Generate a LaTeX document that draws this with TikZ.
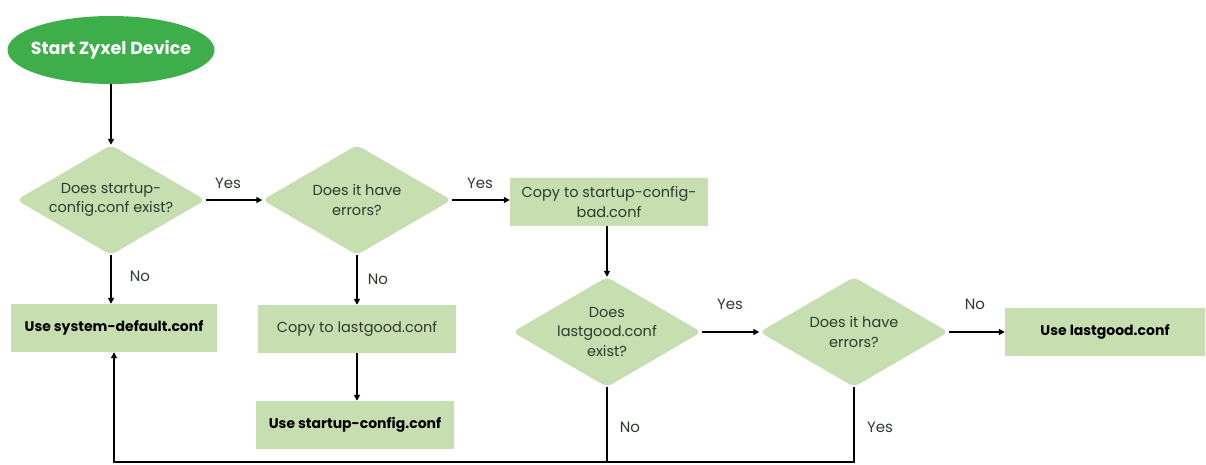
\documentclass[tikz,border=0pt]{standalone}
\usepackage{fontspec}
\setmainfont{Poppins}
\usetikzlibrary{shapes.geometric,arrows.meta}
\definecolor{dkgreen}{HTML}{3DAE49}
\definecolor{ltgreen}{HTML}{C6DEB0}
\definecolor{txt}{HTML}{2E3A2E}
\tikzset{
  every node/.style={font=\fontsize{14.5}{19.5}\selectfont},
  startnode/.style={ellipse,fill=dkgreen,minimum width=207pt,minimum height=68pt,inner sep=0pt},
  starttext/.style={inner sep=0pt,text=white,font=\fontsize{17.5}{20}\selectfont\bfseries},
  decision/.style={diamond,fill=ltgreen,minimum width=189pt,minimum height=110pt,inner sep=0pt,rounded corners=6pt},
  dtext/.style={align=center,text=txt,inner sep=0pt},
  procbox/.style={rectangle,fill=ltgreen,minimum width=198pt,minimum height=48pt,inner sep=0pt,text=txt,align=center},
  usebox/.style={procbox,text=black,font=\fontsize{14}{18}\selectfont\bfseries},
  arr/.style={line width=1.6pt,-{Triangle[length=6pt,width=6pt]}},
  ln/.style={line width=1.6pt},
  lbl/.style={text=txt,inner sep=0pt,font=\fontsize{15}{17}\selectfont},
}
\begin{document}
\begin{tikzpicture}[x=1pt,y=-1pt]
\useasboundingbox (0,0) rectangle (1206,464);
\node[startnode] (start) at (111,50) {};
\node[starttext] (startt) at (start) {Start Zyxel Device};
\node[decision] (d1) at (111,200) {};
\node[dtext] (d1t) at (d1) {Does startup-\\config.conf exist?};
\node[decision] (d2) at (357,200) {};
\node[dtext] (d2t) at (d2) {Does it have\\errors?};
\node[procbox] (bad) at (609,202) {Copy to startup-config-\\bad.conf};
\node[decision] (d3) at (607,332) {};
\node[dtext] (d3t) at (d3) {Does\\lastgood.conf\\exist?};
\node[decision] (d4) at (854,332) {};
\node[dtext] (d4t) at (d4) {Does it have\\errors?};
\node[usebox,minimum width=200pt] (uselg) at (1105,332) {Use lastgood.conf};
\node[usebox,minimum width=206pt] (sys) at (114,328) {Use system-default.conf};
\node[procbox] (cplg) at (357,329) {Copy to lastgood.conf};
\node[usebox] (usestart) at (355,425) {Use startup-config.conf};
\coordinate (bl) at (114,462);

\draw[arr] (start) -- (d1);
\draw[arr] (d1) -- (d2);
\draw[arr] (d2) -- (bad.west |- d2);
\draw[arr] (d1.south) -- (sys.north -| d1.south);
\draw[arr] (d2) -- (cplg);
\draw[arr] (cplg.south) -- (usestart.north -| cplg.south);
\draw[arr] (bad.south -| d3) -- (d3);
\draw[arr] (d3) -- (d4);
\draw[arr] (d4) -- (uselg);
\draw[ln] (d3.south) -- (d3.south |- bl);
\draw[arr] (d4.south) |- (bl) -- (sys.south);

\node[lbl] (y1) at (228,183) {Yes};
\node[lbl] (y2) at (480,183) {Yes};
\node[lbl] (n1) at (140,276) {No};
\node[lbl] (n2) at (378,279) {No};
\node[lbl] (y3) at (730,304) {Yes};
\node[lbl] (n3) at (975,304) {No};
\node[lbl] (n4) at (630,427) {No};
\node[lbl] (y4) at (880,427) {Yes};
\end{tikzpicture}
\end{document}
